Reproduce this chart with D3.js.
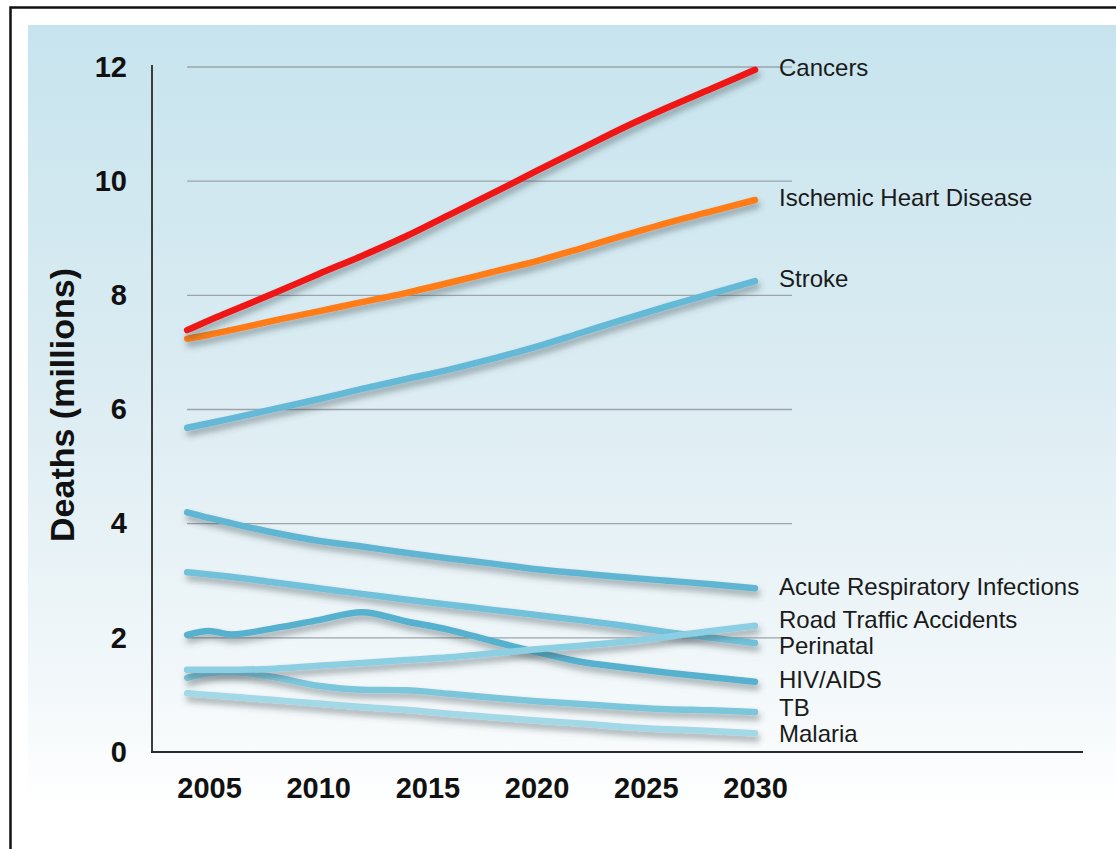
<!DOCTYPE html>
<html>
<head>
    <meta charset="utf-8">
    <title>Projected global deaths</title>
    <script type="text/javascript" src="https://cdn.jsdelivr.net/npm/d3@7"></script>
    <style type="text/css">
        html, body {
            margin: 0;
            background: #fff;
        }

        svg {
            display: block;
            font-family: "Liberation Sans", Arial, sans-serif;
        }

        .grid line {
            stroke: #9ba5aa;
            stroke-width: 1.4;
        }

        .tick-label {
            font-weight: bold;
            font-size: 29px;
            fill: #111;
        }

        .series-label {
            font-size: 24px;
            fill: #1a1a1a;
        }
    </style>
</head>

<body>

<script type="text/javascript">
    var w = 1116, h = 849;

    // projection years shared by every series
    var years = [2004, 2005, 2006, 2008, 2010, 2012, 2014, 2016, 2018, 2020, 2022, 2024, 2026, 2028, 2030];

    var names = ["Cancers", "Ischemic Heart Disease", "Stroke", "Acute Respiratory Infections",
        "Road Traffic Accidents", "Perinatal", "HIV/AIDS", "TB", "Malaria"];

    var cancers   = [7.39, 7.56, 7.72, 8.04, 8.37, 8.69, 9.03, 9.41, 9.79, 10.18, 10.56, 10.94, 11.29, 11.62, 11.95];
    var ihd       = [7.24, 7.31, 7.39, 7.56, 7.72, 7.88, 8.04, 8.22, 8.41, 8.60, 8.82, 9.05, 9.27, 9.47, 9.67];
    var stroke    = [5.68, 5.76, 5.84, 6.01, 6.18, 6.36, 6.53, 6.70, 6.89, 7.10, 7.34, 7.58, 7.81, 8.03, 8.25];
    var ari       = [4.20, 4.10, 4.01, 3.84, 3.70, 3.60, 3.49, 3.39, 3.30, 3.20, 3.13, 3.06, 3.00, 2.94, 2.87];
    var road      = [1.44, 1.44, 1.44, 1.46, 1.51, 1.56, 1.61, 1.66, 1.73, 1.80, 1.86, 1.93, 2.02, 2.12, 2.21];
    var perinatal = [3.15, 3.11, 3.07, 2.97, 2.87, 2.77, 2.67, 2.58, 2.49, 2.40, 2.31, 2.21, 2.10, 2.00, 1.91];
    var hiv       = [2.05, 2.12, 2.06, 2.17, 2.31, 2.45, 2.29, 2.14, 1.94, 1.75, 1.58, 1.48, 1.39, 1.31, 1.23];
    var tb        = [1.30, 1.38, 1.40, 1.31, 1.16, 1.09, 1.08, 1.02, 0.95, 0.89, 0.84, 0.79, 0.75, 0.73, 0.70];
    var malaria   = [1.03, 1.00, 0.97, 0.91, 0.85, 0.79, 0.74, 0.67, 0.61, 0.55, 0.50, 0.44, 0.40, 0.37, 0.33];

    var values = [cancers, ihd, stroke, ari, road, perinatal, hiv, tb, malaria];
    var colors = ["#ef1414", "#ff7b14", "#64b9d6", "#60b6d2", "#8ccfe2", "#70c1d9", "#55b1ce", "#7cc6dc", "#a3d8e7"];

    var yTicks = [0, 2, 4, 6, 8, 10, 12];
    var xTicks = [2005, 2010, 2015, 2020, 2025, 2030];

    var x = d3.scaleLinear().domain([2005, 2030]).range([209, 755]);
    var y = d3.scaleLinear().domain([0, 12]).range([752, 67]);

    var svg = d3.select("body")
            .append("svg")
                .attr("width", w)
                .attr("height", h);

    var defs = svg.append("defs");

    var grad = defs.append("linearGradient")
            .attr("id", "bg")
            .attr("x1", 0).attr("y1", 0)
            .attr("x2", 0).attr("y2", 1);
    grad.append("stop").attr("offset", "0%").attr("stop-color", "#c7e4ee");
    grad.append("stop").attr("offset", "45%").attr("stop-color", "#dbecf2");
    grad.append("stop").attr("offset", "85%").attr("stop-color", "#f3f8fa");
    grad.append("stop").attr("offset", "100%").attr("stop-color", "#ffffff");

    var shadow = defs.append("filter")
            .attr("id", "shadow")
            .attr("x", "-5%").attr("y", "-20%")
            .attr("width", "110%").attr("height", "160%");
    shadow.append("feDropShadow")
            .attr("dx", 2).attr("dy", 5)
            .attr("stdDeviation", 3)
            .attr("flood-color", "#3a4a50")
            .attr("flood-opacity", 0.45);

    // frame and background panel
    svg.append("rect")
            .attr("x", 28).attr("y", 25)
            .attr("width", w - 28).attr("height", 785)
            .attr("fill", "url(#bg)");

    svg.append("rect")
            .attr("x", 10.5).attr("y", 7.5)
            .attr("width", w + 20).attr("height", h + 20)
            .attr("fill", "none")
            .attr("stroke", "#111")
            .attr("stroke-width", 2.5);

    // gridlines
    svg.append("g")
            .attr("class", "grid")
        .selectAll("line")
            .data(yTicks.filter(function (d) {return d > 0;}))
        .enter().append("line")
            .attr("x1", 187).attr("x2", 792)
            .attr("y1", function (d) {return y(d);})
            .attr("y2", function (d) {return y(d);});

    // axis lines
    svg.append("line")
            .attr("x1", 152).attr("x2", 152)
            .attr("y1", 65).attr("y2", y(0))
            .attr("stroke", "#3c3c3c").attr("stroke-width", 2);
    svg.append("line")
            .attr("x1", 151).attr("x2", 1083)
            .attr("y1", y(0)).attr("y2", y(0))
            .attr("stroke", "#2a2a2a").attr("stroke-width", 2);

    // tick labels via d3 axes, domain path and ticks hidden
    var yAxis = svg.append("g")
            .attr("transform", "translate(127,0)")
            .call(d3.axisLeft(y).tickValues(yTicks).tickSize(0).tickPadding(0));
    var xAxis = svg.append("g")
            .attr("transform", "translate(0,777)")
            .call(d3.axisBottom(x).tickValues(xTicks).tickSize(0).tickPadding(0).tickFormat(d3.format("d")));

    [yAxis, xAxis].forEach(function (g) {
        g.select(".domain").remove();
        g.selectAll("text")
                .attr("class", "tick-label")
                .attr("font-size", null)
                .attr("font-family", null)
                .attr("fill", null);
    });
    xAxis.selectAll("text").attr("dy", "0.71em");

    svg.append("text")
            .attr("transform", "translate(62,405) rotate(-90)")
            .attr("text-anchor", "middle")
            .attr("dy", "0.35em")
            .style("font-weight", "bold")
            .style("font-size", "34px")
            .style("fill", "#111")
            .text("Deaths (millions)");

    // lines, drawn bottom series first so the top ones stay above
    var line = d3.line()
            .x(function (d, i) {return x(years[i]);})
            .y(function (d) {return y(d);})
            .curve(d3.curveMonotoneX);

    var order = d3.range(values.length).reverse();

    svg.append("g")
        .selectAll("path")
            .data(order)
        .enter().append("path")
            .attr("d", function (k) {return line(values[k]);})
            .attr("fill", "none")
            .attr("stroke", function (k) {return colors[k];})
            .attr("stroke-width", 6.5)
            .attr("stroke-linecap", "round")
            .attr("stroke-linejoin", "round")
            .attr("filter", "url(#shadow)");

    // end labels, nudged apart where they would collide
    var labels = names.map(function (n, k) {
        return {name: n, pos: y(values[k][values[k].length - 1]) - 2};
    });
    labels.sort(function (a, b) {return a.pos - b.pos;});
    for (var pass = 0; pass < 20; ++pass) {
        for (var i = 1; i < labels.length; ++i) {
            var gap = labels[i].pos - labels[i - 1].pos;
            if (gap < 26.5) {
                var push = (26.5 - gap) / 2;
                labels[i - 1].pos -= push;
                labels[i].pos += push;
            }
        }
    }

    svg.append("g")
        .selectAll("text")
            .data(labels)
        .enter().append("text")
            .attr("class", "series-label")
            .attr("x", 779)
            .attr("y", function (d) {return d.pos;})
            .attr("dy", "0.35em")
            .text(function (d) {return d.name;});
</script>

</body>

</html>
